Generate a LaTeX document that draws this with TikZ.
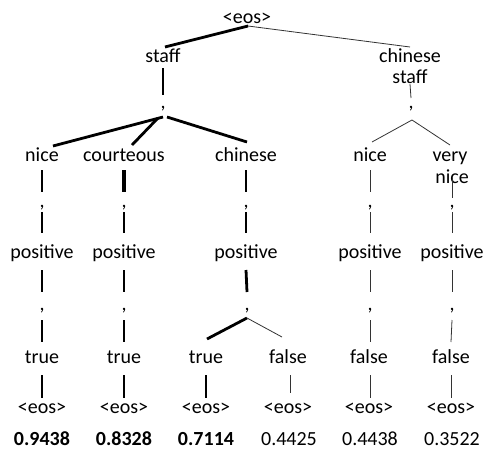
\documentclass[tikz,border=0pt]{standalone}
\usepackage{fontspec}
\setmainfont{Carlito}
\usetikzlibrary{calc}
\begin{document}
\begin{tikzpicture}[x=1pt,y=-1pt,
  lbl/.style={inner sep=0pt, anchor=base, font=\fontsize{20}{22}\selectfont},
  bld/.style={inner sep=0pt, anchor=base, font=\fontsize{20}{22}\selectfont\bfseries},
  wA/.style={line width=2.8pt},
  wB/.style={line width=3.8pt},
  wT/.style={line width=0.8pt, black!80}]
\useasboundingbox (0,0) rectangle (484,455);
% nodes
\node[lbl] (eos0) at (247,23) {<eos>};
\node[lbl] (staff) at (163,62) {staff};
\node[lbl] (cs1) at (410,62) {chinese};
\node[lbl] (cs2) at (410,83) {staff};
\node[lbl] (kL) at (163,108) {,};
\node[lbl] (kR) at (411,108) {,};
% row 3
\node[lbl] (n1) at (42,161) {nice};
\node[lbl] (n2) at (124,161) {courteous};
\node[lbl] (n3) at (246,161) {chinese};
\node[lbl] (n4) at (370,161) {nice};
\node[lbl] (n5a) at (450,161) {very};
\node[lbl] (n5b) at (452,183) {nice};
% commas
\node[lbl] (k1) at (42,207) {,};
\node[lbl] (k2) at (124,207) {,};
\node[lbl] (k3) at (246,207) {,};
\node[lbl] (k4) at (370,207) {,};
\node[lbl] (k5) at (452,207) {,};
% positive
\node[lbl] (p1) at (42,258) {positive};
\node[lbl] (p2) at (124,258) {positive};
\node[lbl] (p3) at (246,258) {positive};
\node[lbl] (p4) at (370,258) {positive};
\node[lbl] (p5) at (452,258) {positive};
% commas
\node[lbl] (m1) at (42,310) {,};
\node[lbl] (m2) at (124,310) {,};
\node[lbl] (m3) at (247,310) {,};
\node[lbl] (m4) at (370,310) {,};
\node[lbl] (m5) at (452,310) {,};
% true/false
\node[lbl] (t1) at (42,363) {true};
\node[lbl] (t2) at (124,363) {true};
\node[lbl] (t3) at (206,363) {true};
\node[lbl] (t4) at (288,363) {false};
\node[lbl] (t5) at (369,363) {false};
\node[lbl] (t6) at (451,363) {false};
% eos
\node[lbl] (e1) at (42,413) {<eos>};
\node[lbl] (e2) at (124,413) {<eos>};
\node[lbl] (e3) at (206,413) {<eos>};
\node[lbl] (e4) at (288,413) {<eos>};
\node[lbl] (e5) at (369,413) {<eos>};
\node[lbl] (e6) at (451,413) {<eos>};
% scores
\node[bld] (s1) at (42,445) {0.9438};
\node[bld] (s2) at (124,445) {0.8328};
\node[bld] (s3) at (206,445) {0.7114};
\node[lbl] (s4) at (289,445) {0.4425};
\node[lbl] (s5) at (370,445) {0.4438};
\node[lbl] (s6) at (452,445) {0.3522};
% top connectors
\draw[wA] ($(eos0.base)+(1,3)$) -- ($(staff.base)+(2,-15)$);
\draw[wT] ($(eos0.base)+(1,3)$) -- ($(cs1.base)+(0,-15)$);
\draw[wA] ($(staff.base)+(0,6)$) -- ($(kL.base)+(0,-13)$);
\draw[wT] ($(cs2.base)+(0,1)$) -- ($(kR.base)+(0,-10)$);
\draw[wA] ($(kL.base)+(0,9)$) -- ($(n1.base)+(11,-15)$);
\draw[wA] ($(kL.base)+(-5,10)$) -- ($(n2.base)+(8,-16)$);
\draw[wA] ($(kL.base)+(4,9)$) -- ($(n3.base)+(1,-19)$);
\draw[wT] ($(kR.base)+(1,12)$) -- ($(n4.base)+(2,-19)$);
\draw[wT] ($(kR.base)+(1,12)$) -- ($(n5a.base)+(0,-16)$);
% column 1
\draw[wA] ($(n1.base)+(0,9)$) -- ($(k1.base)+(0,-15)$);
\draw[wA] ($(k1.base)+(0,5)$) -- ($(p1.base)+(0,-25)$);
\draw[wA] ($(p1.base)+(0,12)$) -- ($(m1.base)+(0,-18)$);
\draw[wA] ($(m1.base)+(0,10)$) -- ($(t1.base)+(0,-21)$);
\draw[wA] ($(t1.base)+(0,12)$) -- ($(e1.base)+(0,-15)$);
% column 2
\draw[wB] ($(n2.base)+(0,9)$) -- ($(k2.base)+(0,-15)$);
\draw[wA] ($(k2.base)+(0,5)$) -- ($(p2.base)+(0,-25)$);
\draw[wA] ($(p2.base)+(0,12)$) -- ($(m2.base)+(0,-18)$);
\draw[wA] ($(m2.base)+(0,10)$) -- ($(t2.base)+(0,-21)$);
\draw[wA] ($(t2.base)+(0,12)$) -- ($(e2.base)+(0,-15)$);
% column 3
\draw[wA] ($(n3.base)+(0,9)$) -- ($(k3.base)+(0,-15)$);
\draw[wA] ($(k3.base)+(0,5)$) -- ($(p3.base)+(0,-25)$);
\draw[wA] ($(p3.base)+(0,12)$) -- ($(m3.base)+(0,-18)$);
\draw[wA] ($(m3.base)+(0,8)$) -- ($(t3.base)+(1,-24)$);
\draw[wT] ($(m3.base)+(0,8)$) -- ($(t4.base)+(-6,-26)$);
\draw[wA] ($(t3.base)+(0,12)$) -- ($(e3.base)+(0,-15)$);
\draw[wT] ($(t4.base)+(2,12)$) -- ($(e4.base)+(2,-20)$);
% column 4
\draw[wT] ($(n4.base)+(0,9)$) -- ($(k4.base)+(0,-15)$);
\draw[wT] ($(k4.base)+(0,5)$) -- ($(p4.base)+(0,-25)$);
\draw[wT] ($(p4.base)+(0,12)$) -- ($(m4.base)+(0,-18)$);
\draw[wT] ($(m4.base)+(0,10)$) -- ($(t5.base)+(1,-21)$);
\draw[wT] ($(t5.base)+(1,12)$) -- ($(e5.base)+(1,-15)$);
% column 5
\draw[wT] ($(n5b.base)+(0,-5)$) -- ($(k5.base)+(0,-9)$);
\draw[wT] ($(k5.base)+(0,5)$) -- ($(p5.base)+(0,-25)$);
\draw[wT] ($(p5.base)+(0,12)$) -- ($(m5.base)+(0,-18)$);
\draw[wT] ($(m5.base)+(0,10)$) -- ($(t6.base)+(0,-21)$);
\draw[wT] ($(t6.base)+(0,12)$) -- ($(e6.base)+(0,-15)$);
\end{tikzpicture}
\end{document}
